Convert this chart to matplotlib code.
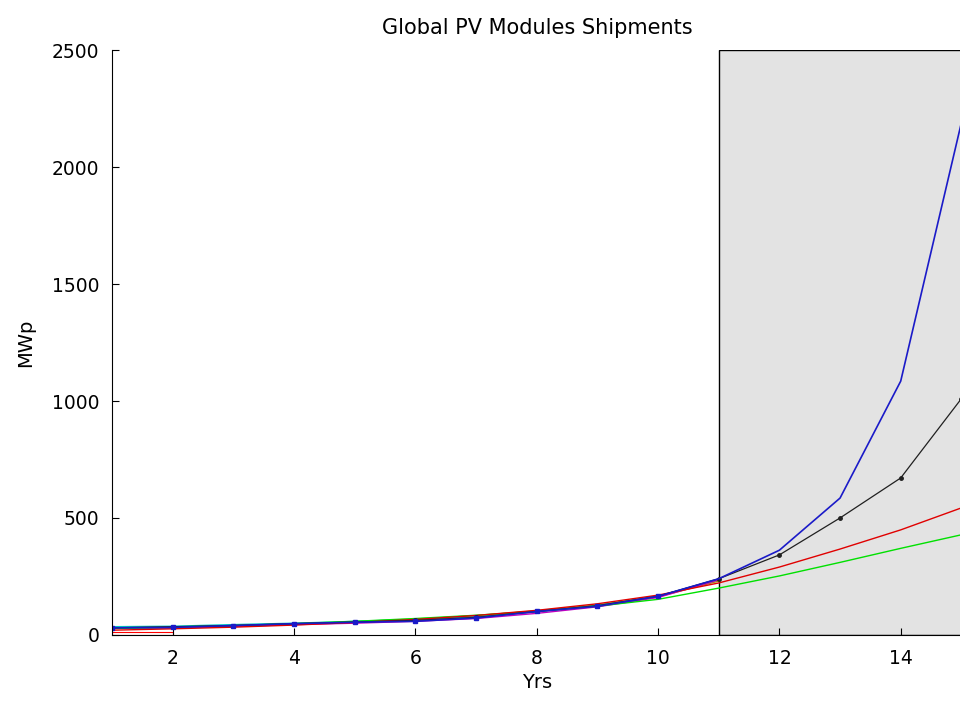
import numpy as np
import matplotlib.pyplot as plt
from matplotlib.patches import Rectangle

plt.rcParams['font.family'] = ['DejaVu Sans']

# years (index) and shipments in MWp
yrs = [1, 2, 3, 4, 5, 6, 7, 8, 9, 10, 11, 12, 13, 14, 15]
actual = [30, 32, 40, 48, 54, 58, 72, 100, 122, 165, 240, 362, 585, 1085, 2190]
model_pts = [30, 35, 40, 48, 55, 62, 75, 100, 125, 165, 240, 342, 500, 671, 1010]
fit_red = [20, 26, 33, 42, 53, 66, 83, 105, 133, 170, 222, 290, 367, 449, 543]
fit_green = [27, 33, 40, 48, 58, 70, 84, 101, 123, 152, 200, 252, 310, 370, 428]

yrs_early = [1, 2, 3, 4, 5, 6, 7, 8, 9, 10, 11]
fit_magenta = [28, 30, 36, 44, 50, 58, 70, 92, 120, 160, 235]
fit_cyan = [35, 37, 44, 50, 58, 66, 78, 98, 126, 165, 238]
fit_olive = [28, 31, 38, 46, 56, 68, 82, 103, 128, 163, 230]

forecast_start = 11
ymax = 2500

fig = plt.figure(figsize=(9.6, 7.07), dpi=100)
ax = fig.add_axes([0.1167, 0.102, 0.886, 0.827])

ax.add_patch(Rectangle((forecast_start, 0), 10, ymax, facecolor='#e3e3e3',
                       edgecolor='black', linewidth=1.0, zorder=0))
ax.add_patch(Rectangle((1, 0), 1, 12, facecolor='none', edgecolor='red',
                       linewidth=0.8, zorder=1))

ax.plot(yrs_early, fit_olive, color='#a0a000', lw=1)
ax.plot(yrs_early, fit_cyan, color='#00c0c0', lw=1)
ax.plot(yrs_early, fit_magenta, color='#c000c0', lw=1)
ax.plot(yrs, fit_green, color='#00e000', lw=1)
ax.plot(yrs, fit_red, color='#e00000', lw=1)
ax.plot(yrs, model_pts, color='#202020', lw=0.9, marker='.', ms=5)
ax.plot(yrs, actual, color='#1a1ac8', lw=1.2, marker='s', ms=2.5,
        markevery=list(range(10)))

ax.set_xlim(1, 15.02)
ax.set_ylim(0, ymax)
ax.set_xticks([2, 4, 6, 8, 10, 12, 14])
ax.set_yticks([0, 500, 1000, 1500, 2000, 2500])
ax.tick_params(direction='in', labelsize=13.5, length=5)
ax.tick_params(axis='x', pad=10)
ax.tick_params(axis='y', pad=9)
ax.spines['top'].set_visible(False)
ax.spines['right'].set_visible(False)

ax.set_title('Global PV Modules Shipments', fontsize=15, pad=12)
ax.set_xlabel('Yrs', fontsize=14, labelpad=4)
ax.set_ylabel('MWp', fontsize=14, labelpad=12)

fig.savefig('out.png', dpi=100)
